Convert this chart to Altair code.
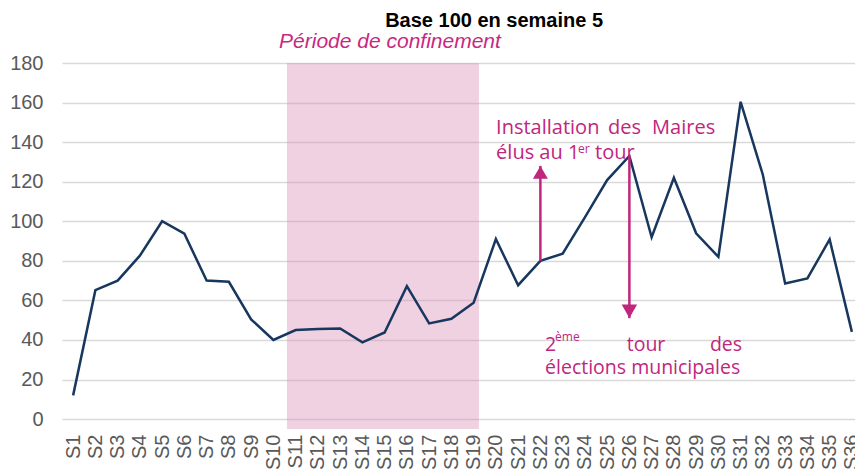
import altair as alt
import pandas as pd

# ---- data ----
weeks = list(range(1, 37))
values = [12, 65.2, 70, 82.6, 100, 93.7, 70, 69.4, 50.4, 40,
          45, 45.5, 45.8, 38.8, 43.8, 67.2, 48.4, 50.7, 58.8, 91,
          67.7, 80, 83.6, 102, 120.8, 133, 91.9, 122, 93.9, 82,
          160.4, 123.4, 68.6, 71.1, 90.8, 44.1]
y_ticks = [0, 20, 40, 60, 80, 100, 120, 140, 160, 180]

band_start = [10.61]
band_end = [19.24]
band_low = [-5]
band_high = [180]

arrow_x = [22, 26]
arrow_from = [80, 133]
arrow_to = [128, 51]
arrow_shape = ["triangle-up", "triangle-down"]

ann_text = ["Installation", "des", "Maires", "élus au 1", "er", "tour",
            "2", "ème", "tour", "des", "élections municipales"]
ann_x = [20.01, 25.04, 27.02, 20.01, 23.69, 24.46,
         22.21, 22.66, 25.88, 29.62, 22.21]
ann_y = [143.9, 143.9, 143.9, 131.3, 134.5, 131.3,
         34.3, 39.6, 34.3, 34.3, 23.0]
ann_size = [20, 20, 20, 20, 12, 20, 19.5, 12, 19.5, 19.5, 19.5]

conf_text = ["Période de confinement"]
conf_x = [15.24]
conf_y = [187.5]

head_text = ["Base 100 en semaine 5"]
head_x = [19.92]
head_y = [198.2]

# ---- tables ----
df = pd.DataFrame({"week": weeks, "value": values})
band = pd.DataFrame({"x": band_start, "x2": band_end, "y": band_low, "y2": band_high})
arrows = pd.DataFrame({"x": arrow_x, "y": arrow_from, "y2": arrow_to, "shape": arrow_shape})
ann = pd.DataFrame({"t": ann_text, "x": ann_x, "y": ann_y, "s": ann_size})
conf = pd.DataFrame({"t": conf_text, "x": conf_x, "y": conf_y})
head = pd.DataFrame({"t": head_text, "x": head_x, "y": head_y})

MAG = "#c0267e"
xscale = alt.Scale(domain=[0.5, 36.14], nice=False, zero=False)
yscale = alt.Scale(domain=[-5, 180], nice=False, zero=False)

xaxis = alt.Axis(values=weeks, labelExpr="'S' + datum.value", labelAngle=-90,
                 grid=False, domain=False, ticks=False, tickSize=0, labelPadding=5,
                 labelFontSize=20, labelColor="#595959", labelFont="Liberation Sans",
                 labelOverlap=False, labelFlush=False, labelBound=False, title=None)
yaxis = alt.Axis(values=y_ticks, grid=True, gridColor="#d9d9d9", gridWidth=1.5,
                 domain=False, ticks=False, tickSize=0, labelPadding=19,
                 labelFontSize=20, labelColor="#595959", labelFont="Liberation Sans",
                 labelOverlap=False, labelFlush=False, title=None)


def X(field):
    return alt.X(field, scale=xscale, axis=xaxis)


def Y(field):
    return alt.Y(field, scale=yscale, axis=yaxis)


rect = alt.Chart(band).mark_rect(color="#d98cb5", opacity=0.4).encode(
    x=X("x:Q"), x2="x2:Q", y=Y("y:Q"), y2="y2:Q",
)

line = alt.Chart(df).mark_line(color="#17375e", strokeWidth=2.5).encode(
    x=X("week:Q"), y=Y("value:Q"),
)

shafts = alt.Chart(arrows).mark_rule(color=MAG, strokeWidth=2.5).encode(
    x=X("x:Q"), y=Y("y:Q"), y2="y2:Q",
)

up = alt.Chart(arrows[arrows["shape"] == "triangle-up"]).mark_point(
    shape="triangle-up", filled=True, size=225, color=MAG, opacity=1, yOffset=6.5
).encode(x=X("x:Q"), y=Y("y2:Q"))

down = alt.Chart(arrows[arrows["shape"] == "triangle-down"]).mark_point(
    shape="triangle-down", filled=True, size=240, color=MAG, opacity=1, yOffset=-7
).encode(x=X("x:Q"), y=Y("y2:Q"))

texts = alt.Chart(ann).mark_text(color=MAG, font="Open Sans", align="left",
                                 baseline="alphabetic").encode(
    x=X("x:Q"), y=Y("y:Q"), text="t:N",
    size=alt.Size("s:Q", scale=None, legend=None),
)

conf_t = alt.Chart(conf).mark_text(color="#c8287f", font="Liberation Sans", fontStyle="italic",
                                   fontSize=21, align="center", baseline="alphabetic").encode(
    x=X("x:Q"), y=Y("y:Q"), text="t:N",
)

head_t = alt.Chart(head).mark_text(color="#000000", font="Liberation Sans", fontWeight="bold",
                                   fontSize=20, align="center", baseline="alphabetic").encode(
    x=X("x:Q"), y=Y("y:Q"), text="t:N",
)

chart = alt.layer(rect, line, shafts, up, down, texts, conf_t, head_t).properties(
    width=793, height=366,
    autosize=alt.AutoSizeParams(type="none"),
    padding={"left": 54, "top": 55, "right": 0, "bottom": 40},
).configure_view(stroke=None)

chart.save("out.html", embed_options={"renderer": "svg", "actions": False})
